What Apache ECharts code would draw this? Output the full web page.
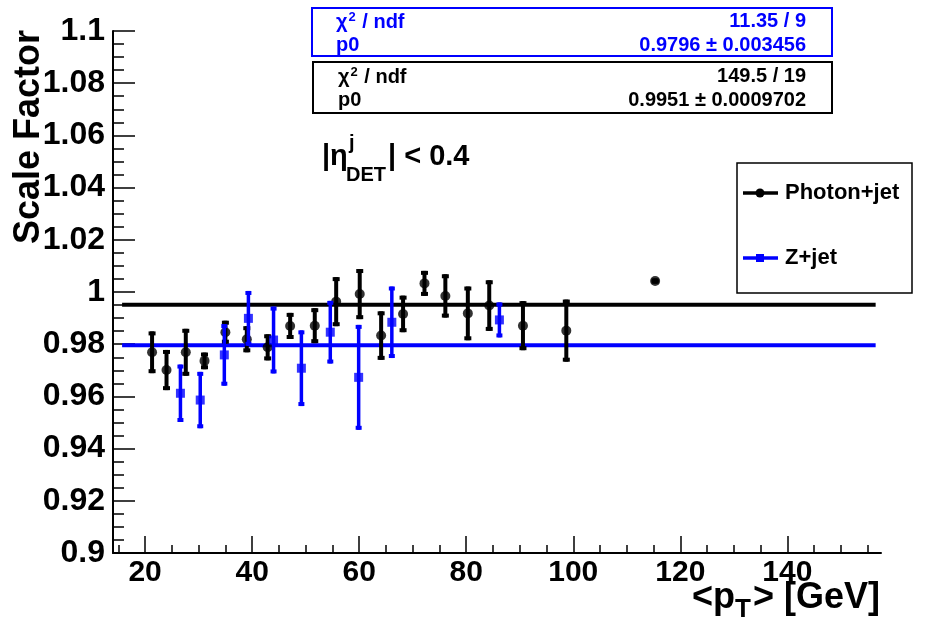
<!DOCTYPE html>
<html>
<head>
<meta charset="utf-8">
<script src="https://cdn.jsdelivr.net/npm/echarts@6/dist/echarts.min.js"></script>
<style>
  html, body { margin: 0; background: #fff; }
  #chart { width: 927px; height: 626px; }
</style>
</head>
<body>
<div id="chart"></div>
<script>
// Photon+jet points
const photonPt = [21.3, 24.0, 27.6, 31.1, 35.0, 39.0, 42.9, 47.1, 51.7, 55.7, 60.1, 64.1, 68.2, 72.2, 76.1, 80.3, 84.3, 90.6, 98.7, 115.3]
const photonSF = [0.9769, 0.9701, 0.9769, 0.9736, 0.9846, 0.9819, 0.9788, 0.9870, 0.9871, 0.9963, 0.9992, 0.9833, 0.9916, 1.0033, 0.9985, 0.9918, 0.9948, 0.9871, 0.9852, 1.0042]
const photonErr = [0.0080, 0.0077, 0.0090, 0.0032, 0.0044, 0.0050, 0.0050, 0.0050, 0.0067, 0.0094, 0.0096, 0.0093, 0.0070, 0.0048, 0.0083, 0.0103, 0.0097, 0.0094, 0.0119, 0.0010]

// Z+jet points
const zPt = [26.6, 30.3, 34.8, 39.3, 44.0, 49.2, 54.6, 59.9, 66.1, 86.2]
const zSF = [0.9612, 0.9586, 0.9759, 0.9899, 0.9816, 0.9708, 0.9846, 0.9673, 0.9884, 0.9893]
const zErr = [0.0110, 0.0108, 0.0118, 0.0105, 0.0128, 0.0145, 0.0120, 0.0201, 0.0137, 0.0067]

// constant fits
const photonFit = 0.9951
const zFit = 0.9796
const fitRange = [15.7, 156.5]

// axes
const xRange = [14, 157.5]
const xMajorTicks = [20, 40, 60, 80, 100, 120, 140]
const xMinorTicks = [15, 25, 30, 35, 45, 50, 55, 65, 70, 75, 85, 90, 95, 105, 110, 115, 125, 130, 135, 145, 150, 155]
const yRange = [0.9, 1.1]
const yStep = 0.02

const FONT = '"Liberation Sans", Arial, Helvetica, sans-serif'
const BLUE = '#0000ff'

const chart = echarts.init(document.getElementById('chart'))

const errorBars = (color, lw, capW) => (params, api) => {
  const x = api.value(0)
  const y = api.value(1)
  const e = api.value(2)
  const hi = api.coord([x, y + e])
  const lo = api.coord([x, y - e])
  return {
    type: 'group',
    children: [
      { type: 'line', shape: { x1: hi[0], y1: hi[1], x2: lo[0], y2: lo[1] }, style: { stroke: color, lineWidth: lw } },
      { type: 'rect', shape: { x: hi[0] - capW / 2, y: hi[1], width: capW, height: 4 }, style: { fill: color } },
      { type: 'rect', shape: { x: lo[0] - capW / 2, y: lo[1] - 4, width: capW, height: 4 }, style: { fill: color } }
    ]
  }
}

const txt = (text, x, y, opts) => ({
  type: 'text',
  x, y,
  style: Object.assign({
    text,
    font: 'bold 20px ' + FONT,
    fill: '#000',
    textAlign: 'left',
    textVerticalAlign: 'middle'
  }, opts || {})
})

// chi2 label with a real superscript
const chiLabel = (x, y, color) => ({
  type: 'text',
  x, y,
  style: {
    text: '{a|χ}{b|2}{a| / ndf}',
    textAlign: 'left',
    textVerticalAlign: 'middle',
    rich: {
      a: { font: 'bold 20px ' + FONT, fill: color },
      b: { font: 'bold 13px ' + FONT, fill: color, padding: [0, 1, 10, 1] }
    }
  }
})

const option = {
  animation: false,
  backgroundColor: '#fff',
  grid: {
    left: 113,
    top: 31,
    right: 46,
    bottom: 73,
    outerBoundsMode: 'none'
  },
  xAxis: [
    {
      type: 'value',
      min: xRange[0],
      max: xRange[1],
      axisLine: { lineStyle: { color: '#000', width: 2 } },
      axisTick: {
        inside: true,
        length: 17,
        customValues: xMajorTicks,
        lineStyle: { color: '#000', width: 1.5 }
      },
      axisLabel: {
        customValues: xMajorTicks,
        color: '#000',
        fontFamily: FONT,
        fontWeight: 'bold',
        fontSize: 30,
        margin: 5
      },
      splitLine: { show: false }
    },
    {
      type: 'value',
      position: 'bottom',
      min: xRange[0],
      max: xRange[1],
      axisLine: { show: false },
      axisTick: {
        inside: true,
        length: 8,
        customValues: xMinorTicks,
        lineStyle: { color: '#000', width: 1.5 }
      },
      axisLabel: { show: false },
      splitLine: { show: false }
    }
  ],
  yAxis: {
    type: 'value',
    min: yRange[0],
    max: yRange[1],
    interval: yStep,
    axisLine: { show: true, lineStyle: { color: '#000', width: 2 } },
    axisTick: {
      show: true,
      inside: true,
      length: 22,
      lineStyle: { color: '#000', width: 1.5 }
    },
    minorTick: {
      show: true,
      splitNumber: 4,
      length: 11,
      lineStyle: { color: '#000', width: 1.5 }
    },
    axisLabel: {
      color: '#000',
      fontFamily: FONT,
      fontWeight: 'bold',
      fontSize: 32,
      margin: 8,
      formatter: v => String(+v.toFixed(3))
    },
    splitLine: { show: false }
  },
  series: [
    {
      type: 'line',
      data: [[fitRange[0], photonFit], [fitRange[1], photonFit]],
      symbol: 'none',
      lineStyle: { color: '#000', width: 4 },
      z: 1
    },
    {
      type: 'line',
      data: [[fitRange[0], zFit], [fitRange[1], zFit]],
      symbol: 'none',
      lineStyle: { color: BLUE, width: 4 },
      z: 1
    },
    {
      type: 'custom',
      renderItem: errorBars('#000', 4, 7),
      data: photonPt.map((x, i) => [x, photonSF[i], photonErr[i]]),
      encode: { x: 0, y: 1 },
      z: 2
    },
    {
      type: 'scatter',
      data: photonPt.map((x, i) => [x, photonSF[i]]),
      symbol: 'circle',
      symbolSize: 10,
      itemStyle: { color: '#000' },
      z: 3
    },
    {
      type: 'custom',
      renderItem: errorBars(BLUE, 3.5, 6),
      data: zPt.map((x, i) => [x, zSF[i], zErr[i]]),
      encode: { x: 0, y: 1 },
      z: 4
    },
    {
      type: 'scatter',
      data: zPt.map((x, i) => [x, zSF[i]]),
      symbol: 'rect',
      symbolSize: 9,
      itemStyle: { color: BLUE },
      z: 5
    }
  ],
  graphic: [
    // axis titles
    {
      type: 'text',
      x: 29,
      y: 30,
      rotation: Math.PI / 2,
      style: {
        text: 'Scale Factor',
        font: 'bold 36px ' + FONT,
        fill: '#000',
        textAlign: 'right',
        textVerticalAlign: 'middle'
      }
    },
    {
      type: 'text',
      x: 880,
      y: 598,
      style: {
        text: '{m|<p}{s|T}{m|> [GeV]}',
        textAlign: 'right',
        textVerticalAlign: 'middle',
        rich: {
          m: { font: 'bold 36px ' + FONT, fill: '#000' },
          s: { font: 'bold 26px ' + FONT, fill: '#000', padding: [24, 2, 0, 0] }
        }
      }
    },
    // eta label
    txt('|η', 322, 157, { font: 'bold 29px ' + FONT }),
    txt('j', 349, 143, { font: 'bold 20px ' + FONT }),
    txt('DET', 346, 175, { font: 'bold 20px ' + FONT }),
    txt('| < 0.4', 388, 157, { font: 'bold 29px ' + FONT }),
    // Z+jet fit box
    {
      type: 'rect',
      shape: { x: 312, y: 8, width: 520, height: 48 },
      style: { fill: '#fff', stroke: BLUE, lineWidth: 2 }
    },
    chiLabel(336, 22, BLUE),
    txt('11.35 / 9', 806, 21, { fill: BLUE, textAlign: 'right' }),
    txt('p0', 336, 45, { fill: BLUE }),
    txt('0.9796 ± 0.003456', 806, 45, { fill: BLUE, textAlign: 'right' }),
    // Photon+jet fit box
    {
      type: 'rect',
      shape: { x: 313, y: 62, width: 519, height: 51 },
      style: { fill: '#fff', stroke: '#000', lineWidth: 2 }
    },
    chiLabel(338, 77, '#000'),
    txt('149.5 / 19', 806, 76, { textAlign: 'right' }),
    txt('p0', 338, 100),
    txt('0.9951 ± 0.0009702', 806, 100, { textAlign: 'right' }),
    // legend
    {
      type: 'rect',
      shape: { x: 737, y: 163, width: 175, height: 130 },
      style: { fill: '#fff', stroke: '#000', lineWidth: 1.5 }
    },
    {
      type: 'line',
      shape: { x1: 743, y1: 193, x2: 778, y2: 193 },
      style: { stroke: '#000', lineWidth: 3.5 }
    },
    {
      type: 'circle',
      shape: { cx: 760, cy: 193, r: 4.5 },
      style: { fill: '#000' }
    },
    txt('Photon+jet', 785, 193, { font: 'bold 22px ' + FONT }),
    {
      type: 'line',
      shape: { x1: 743, y1: 258, x2: 778, y2: 258 },
      style: { stroke: BLUE, lineWidth: 3.5 }
    },
    {
      type: 'rect',
      shape: { x: 756, y: 254, width: 8, height: 8 },
      style: { fill: BLUE }
    },
    txt('Z+jet', 785, 258, { font: 'bold 22px ' + FONT })
  ]
}

chart.setOption(option)
</script>
</body>
</html>
